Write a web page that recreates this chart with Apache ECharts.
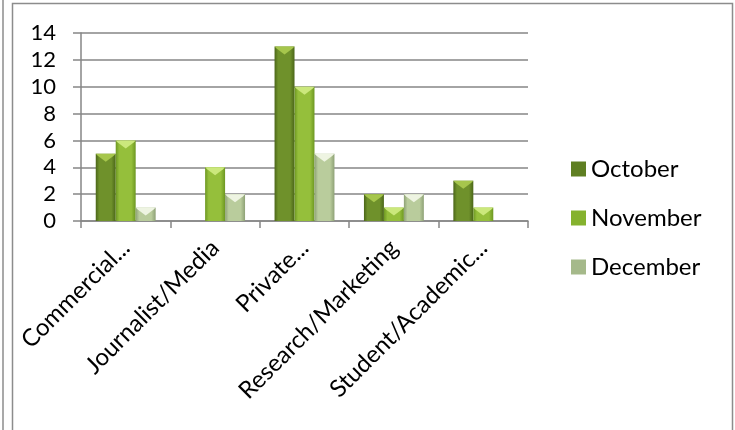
<!DOCTYPE html>
<html>
<head>
<meta charset="utf-8">
<script src="https://cdn.jsdelivr.net/npm/echarts@6/dist/echarts.min.js"></script>
<style>html,body{margin:0;padding:0;background:#fff;}#c{width:735px;height:430px;}</style>
</head>
<body>
<div id="c"></div>
<script>
var categories = ['Commercial...', 'Journalist/Media', 'Private...', 'Research/Marketing', 'Student/Academic...'];
var october = [5, 0, 13, 2, 3];
var november = [6, 4, 10, 1, 1];
var december = [1, 2, 5, 2, 0];
var seriesNames = ['October', 'November', 'December'];
var yTicks = [0, 2, 4, 6, 8, 10, 12, 14];

var FONT = 'Lato';
var GAP = 0.33;
function grad(edge, mid) {
  return new echarts.graphic.LinearGradient(0, 0, 1, 0, [
    {offset: 0, color: edge}, {offset: 0.18, color: mid}, {offset: 0.78, color: mid}, {offset: 1, color: edge}
  ]);
}
var styles = [
  {edge: '#4b6619', mid: '#6f912b', top: '#a6c64c', legend: '#5f7f22'},
  {edge: '#6d9722', mid: '#95bf3b', top: '#cbe87c', legend: '#85b22e'},
  {edge: '#8ea176', mid: '#b9cc9c', top: '#eef4e2', legend: '#a5b98a'}
];
var data = [october, november, december];
var bevelData = [];
data.forEach(function (arr, i) {
  arr.forEach(function (v, j) { bevelData.push([j, v, i]); });
});

var chart = echarts.init(document.getElementById('c'), null, {renderer: 'canvas'});
var series = seriesNames.map(function (n, i) {
  return {
    name: n, type: 'bar', data: data[i],
    barGap: '0%', barCategoryGap: (GAP * 100) + '%',
    itemStyle: {color: grad(styles[i].edge, styles[i].mid)}
  };
});
series.push({
  type: 'custom', name: 'bevel', data: bevelData, silent: true, z: 3,
  encode: {x: 0, y: 1},
  renderItem: function (params, api) {
    var j = api.value(0), v = api.value(1), s = api.value(2);
    if (!v) return null;
    var catW = api.size([1, 0])[0];
    var bw = catW * (1 - GAP) / 3;
    var c = api.coord([j, v]);
    var x0 = c[0] - 1.5 * bw + s * bw;
    var y0 = c[1];
    var d = Math.min(8, bw * 0.4);
    return {
      type: 'polygon',
      shape: {points: [[x0, y0], [x0 + bw, y0], [x0 + bw - 2, y0 + 2], [x0 + bw / 2, y0 + d], [x0 + 2, y0 + 2]]},
      style: {fill: styles[s].top}
    };
  }
});

chart.setOption({
  animation: false,
  backgroundColor: '#fff',
  grid: {left: 81, right: 207, top: 33, bottom: 209, containLabel: false},
  legend: {
    orient: 'vertical', left: 571, top: 157, padding: 0,
    itemWidth: 15, itemHeight: 15, itemGap: 25,
    icon: 'rect',
    textStyle: {fontFamily: FONT, fontSize: 24, color: '#000'},
    data: seriesNames.map(function (n, i) { return {name: n, itemStyle: {color: styles[i].legend}}; })
  },
  xAxis: {
    type: 'category', data: categories,
    axisLine: {lineStyle: {color: '#868686', width: 1.5}},
    axisTick: {show: true, length: 7, alignWithLabel: false, lineStyle: {color: '#868686', width: 1.5}},
    axisLabel: {rotate: 45, interval: 0, margin: 23, fontFamily: FONT, fontSize: 24, color: '#000'}
  },
  yAxis: {
    type: 'value', min: 0, max: 14, interval: 2,
    axisLine: {show: true, lineStyle: {color: '#868686', width: 1.5}},
    axisTick: {show: true, length: 8, lineStyle: {color: '#868686', width: 1.5}},
    splitLine: {lineStyle: {color: '#868686', width: 1.5}},
    axisLabel: {margin: 25, fontFamily: FONT, fontSize: 22, color: '#000',
      formatter: function (v) { return yTicks.indexOf(v) >= 0 ? String(v) : ''; }}
  },
  graphic: [
    {type: 'rect', shape: {x: 12.5, y: 3.5, width: 720, height: 440}, style: {fill: null, stroke: '#8c8c8c', lineWidth: 1.5}, silent: true},
    {type: 'line', shape: {x1: 3, y1: 0, x2: 3, y2: 430}, style: {stroke: '#8c8c8c', lineWidth: 1.5}, silent: true}
  ],
  series: series
});
</script>
</body>
</html>
